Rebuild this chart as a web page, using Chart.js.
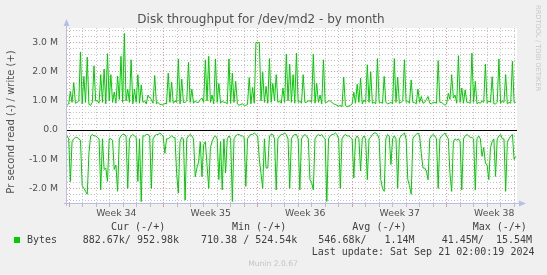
<!DOCTYPE html>
<html>
<head>
<meta charset="utf-8">
<script src="https://cdn.jsdelivr.net/npm/chart.js@4.4.1/dist/chart.umd.min.js"></script>
<style>
html, body { margin: 0; padding: 0; background: #f0f0f0; }
canvas { display: block; }
</style>
</head>
<body>
<canvas id="diskChart" width="547" height="275"></canvas>
<script>
// x axis in days since the start of week 34, one sample every 3 hours
const firstDay = -0.15;
const lastDay = 33.19;
const stepDays = 0.125;
const weekLabels = ['Week 34', 'Week 35', 'Week 36', 'Week 37', 'Week 38'];
const yTicks = [-2, -1, 0, 1, 2, 3];
const yTickLabels = ['-2.0 M', '-1.0 M', '0.0', '1.0 M', '2.0 M', '3.0 M'];

// bytes per second, in millions
const writeM = [
    0.85,0.9,1.32,0.95,1.63,0.92,0.95,1.0,2.68,0.9,1.84,0.95,2.5,0.88,0.85,0.95,2.2,1.0,1.0,0.92,
    1.9,0.95,2.09,0.9,2.62,1.0,1.9,0.95,1.3,0.92,1.85,1.05,2.53,0.95,3.31,1.0,1.4,0.95,2.41,0.9,
    1.4,0.95,1.9,0.92,1.55,0.95,1.0,0.9,1.2,1.1,1.05,0.92,1.87,0.9,0.95,0.88,0.88,0.85,0.92,0.9,
    1.95,0.95,1.64,0.92,1.0,0.95,2.44,0.9,1.75,0.95,0.95,1.0,2.32,0.95,1.4,0.92,1.0,0.95,0.95,1.05,
    1.1,0.95,2.41,1.0,2.53,0.95,1.2,0.9,2.44,0.95,1.6,0.92,1.0,0.95,0.95,0.9,2.44,0.92,1.95,0.95,
    1.67,0.9,0.85,0.88,0.9,0.85,0.85,0.88,1.8,0.9,1.46,0.92,3.01,3.0,3.0,1.0,1.98,0.95,1.5,0.92,
    2.45,0.95,1.6,1.0,1.9,0.95,1.0,0.92,1.44,0.95,2.61,1.0,2.26,0.95,1.9,0.92,2.64,0.95,1.0,0.92,
    1.9,0.95,0.95,1.0,1.0,0.95,2.61,0.92,1.6,0.95,1.2,0.9,2.41,0.95,0.95,1.0,1.0,0.95,0.9,0.88,
    0.85,0.82,0.85,0.8,1.82,0.85,0.8,0.82,0.85,0.9,1.3,0.92,1.57,0.95,1.78,0.9,1.03,0.95,2.24,0.95,
    1.99,0.92,0.95,0.9,2.45,0.95,0.95,0.92,1.84,0.95,0.9,0.92,0.95,0.9,2.45,0.95,1.82,0.92,0.95,1.0,
    2.41,0.95,1.0,0.92,1.72,0.95,0.95,0.9,1.41,0.95,1.15,0.92,0.95,1.05,1.15,0.92,0.9,0.95,0.95,0.92,
    2.38,0.95,0.95,0.9,0.85,0.9,1.26,1.05,1.9,1.1,1.2,0.92,2.55,0.95,1.44,0.92,1.38,0.95,0.95,0.92,
    2.64,0.95,1.67,0.9,0.95,0.92,1.0,0.95,2.26,0.92,1.0,0.95,1.83,0.9,0.9,0.95,2.44,0.92,1.0,0.95,
    1.9,0.9,0.95,0.92,2.36,0.95,0.95];

// read side, drawn below zero
const readM = [
    0.2,0.3,1.76,0.4,0.3,0.25,0.25,0.3,0.35,1.9,2.0,2.1,2.2,0.8,0.2,0.15,0.2,0.2,0.25,0.3,
    2.05,0.3,1.35,1.3,1.76,0.3,0.3,0.35,1.35,1.2,2.1,0.3,0.2,0.15,0.15,0.2,2.0,0.3,0.2,0.15,
    0.2,0.25,1.76,0.3,2.45,0.2,0.2,0.15,0.15,0.2,2.0,0.3,0.2,0.15,0.15,0.1,0.15,0.2,0.8,0.3,
    0.3,0.25,0.2,0.25,0.25,1.5,2.16,0.4,0.25,0.3,2.4,0.3,0.2,0.15,0.2,0.3,1.6,1.3,1.1,0.4,
    1.6,0.5,0.4,1.2,2.0,0.6,0.4,0.25,0.2,0.3,1.7,0.4,2.05,0.3,1.47,0.3,0.2,0.3,2.45,0.3,
    0.2,0.15,0.15,0.2,0.2,0.25,1.93,0.3,0.2,0.15,0.15,0.1,0.15,0.2,1.0,1.5,2.0,0.3,1.3,1.3,
    0.2,0.15,0.15,0.3,2.05,0.3,0.2,0.15,0.15,0.1,0.15,0.3,2.0,0.3,0.2,0.15,0.15,0.3,2.05,0.3,
    0.2,0.15,0.2,0.3,1.7,1.8,2.05,0.3,0.2,0.15,0.2,0.15,0.25,0.3,2.45,0.3,0.2,0.15,0.15,0.1,
    0.15,0.3,2.0,0.3,0.2,0.15,0.2,0.2,0.25,0.3,1.64,0.3,0.2,0.3,1.4,0.3,0.2,0.3,1.7,0.3,
    0.25,0.15,0.1,0.1,0.15,0.3,1.7,2.0,2.1,0.3,0.15,0.2,1.18,0.3,0.2,0.3,2.0,0.3,0.2,0.15,
    0.1,0.3,1.7,1.9,2.2,0.3,0.2,0.15,0.1,0.2,0.8,1.3,1.3,1.4,1.7,0.3,0.2,0.15,0.2,0.3,
    2.0,0.3,0.2,0.15,0.1,0.2,0.3,1.5,2.1,0.4,0.3,0.35,0.3,0.4,2.05,0.3,0.2,0.15,0.2,0.25,
    0.25,0.3,2.05,0.3,0.2,0.3,0.9,0.6,1.13,1.2,1.7,0.6,0.4,0.3,1.59,0.3,0.2,0.15,0.3,0.3,
    2.1,0.4,0.3,0.2,0.15,1.0,0.9];

const legendHead = ['Cur (-/+)', 'Min (-/+)', 'Avg (-/+)', 'Max (-/+)'];
const legendVals = ['882.67k/ 952.98k', '710.38 / 524.54k', '546.68k/   1.14M', '41.45M/  15.54M'];
const lastUpdate = 'Last update: Sat Sep 21 02:00:19 2024';

const GREEN = '#00cc00';
const RED_GRID = 'rgba(230, 110, 110, 0.7)';
const GRAY_GRID = 'rgba(150, 150, 150, 0.55)';
const AXIS = '#b8bfe6';

const points = arr => arr.map((v, i) => ({ x: firstDay + i * stepDays, y: v }));

const muninDecor = {
    id: 'muninDecor',
    beforeDraw(chart) {
        const { ctx, chartArea: a } = chart;
        ctx.save();
        ctx.fillStyle = '#ffffff';
        ctx.fillRect(a.left, a.top, a.right - a.left, a.bottom - a.top);
        ctx.restore();
    },
    beforeDatasetsDraw(chart) {
        const { ctx, chartArea: a } = chart;
        const y0 = Math.round(chart.scales.y.getPixelForValue(0)) + 0.5;
        ctx.save();
        ctx.strokeStyle = '#000';
        ctx.lineWidth = 1;
        ctx.beginPath();
        ctx.moveTo(a.left, y0);
        ctx.lineTo(a.right, y0);
        ctx.stroke();
        ctx.restore();
    },
    afterDraw(chart) {
        const { ctx, chartArea: a } = chart;
        ctx.save();

        // axes with arrows
        ctx.strokeStyle = AXIS;
        ctx.fillStyle = AXIS;
        ctx.lineWidth = 1;
        ctx.beginPath();
        ctx.moveTo(a.left - 0.5, a.bottom + 3);
        ctx.lineTo(a.left - 0.5, a.top - 4);
        ctx.moveTo(a.left - 3, a.bottom + 0.5);
        ctx.lineTo(a.right + 3, a.bottom + 0.5);
        ctx.stroke();
        ctx.beginPath();
        ctx.moveTo(a.left - 0.5, a.top - 9);
        ctx.lineTo(a.left - 3.5, a.top - 2);
        ctx.lineTo(a.left + 2.5, a.top - 2);
        ctx.fill();
        ctx.beginPath();
        ctx.moveTo(a.right + 9, a.bottom + 0.5);
        ctx.lineTo(a.right + 2, a.bottom - 2.5);
        ctx.lineTo(a.right + 2, a.bottom + 3.5);
        ctx.fill();

        // title
        ctx.fillStyle = '#505050';
        ctx.font = '12px "DejaVu Sans"';
        ctx.textAlign = 'center';
        ctx.textBaseline = 'middle';
        ctx.fillText('Disk throughput for /dev/md2 - by month', 261, 19.5);

        // vertical axis label
        ctx.save();
        ctx.translate(11, 122);
        ctx.rotate(-Math.PI / 2);
        ctx.font = '10px "DejaVu Sans"';
        ctx.fillText('Pr second read (-) / write (+)', 0, 0);
        ctx.restore();

        // watermark
        ctx.save();
        ctx.translate(538, 5);
        ctx.rotate(Math.PI / 2);
        ctx.fillStyle = '#c8c8c8';
        ctx.font = '6.7px "DejaVu Sans"';
        ctx.textAlign = 'left';
        ctx.fillText('RRDTOOL / TOBI OETIKER', 0, 0);
        ctx.restore();

        // legend
        ctx.fillStyle = GREEN;
        ctx.fillRect(14, 237, 6, 6);
        ctx.fillStyle = '#404040';
        ctx.font = '10px "DejaVu Sans Mono"';
        ctx.textAlign = 'left';
        const headX = [111, 232, 352.3, 472.7];
        const valX = [82.7, 201, 318.3, 441.7];
        legendHead.forEach((t, i) => ctx.fillText(t, headX[i], 227.5));
        legendVals.forEach((t, i) => ctx.fillText(t, valX[i], 240));
        ctx.fillText('Bytes', 27, 240);
        ctx.fillText(lastUpdate, 311.7, 252);

        ctx.fillStyle = '#c4c4c4';
        ctx.font = '7.6px "DejaVu Sans"';
        ctx.textAlign = 'center';
        ctx.fillText('Munin 2.0.67', 273, 264);
        ctx.restore();
    }
};

const chartCtx = document.getElementById('diskChart').getContext('2d');
new Chart(chartCtx, {
    type: 'line',
    data: {
        datasets: [{
            label: 'write',
            data: points(writeM),
            borderColor: GREEN,
            borderWidth: 1,
            pointRadius: 0,
            tension: 0
        }, {
            label: 'read',
            data: points(readM.map(v => -v)),
            borderColor: GREEN,
            borderWidth: 1,
            pointRadius: 0,
            tension: 0
        }]
    },
    options: {
        responsive: false,
        animation: false,
        layout: { padding: { top: 28, right: 30, left: 0, bottom: 0 } },
        plugins: {
            legend: { display: false },
            tooltip: { enabled: false }
        },
        scales: {
            x: {
                type: 'linear',
                min: firstDay,
                max: lastDay,
                afterBuildTicks: scale => {
                    const t = [];
                    for (let d = 0; d <= 33; d++) t.push({ value: d });
                    weekLabels.forEach((_, i) => t.push({ value: i * 7 + 3.5 }));
                    scale.ticks = t.sort((p, q) => p.value - q.value);
                },
                afterFit: scale => { scale.height = 72; },
                grid: {
                    color: c => {
                        const v = c.tick.value;
                        if (!Number.isInteger(v)) return 'rgba(0,0,0,0)';
                        return v % 7 === 0 ? RED_GRID : GRAY_GRID;
                    },
                    tickLength: 4
                },
                border: { display: false, dash: [1, 2] },
                ticks: {
                    autoSkip: false,
                    maxRotation: 0,
                    padding: 1,
                    color: '#505050',
                    font: { family: 'DejaVu Sans', size: 9.3 },
                    callback: v => {
                        const w = (v - 3.5) / 7;
                        return Number.isInteger(w) ? weekLabels[w] : '';
                    }
                }
            },
            y: {
                min: -2.5,
                max: 3.5,
                afterBuildTicks: scale => {
                    const t = [];
                    for (let k = -12; k <= 17; k++) t.push({ value: k / 5 });
                    scale.ticks = t;
                },
                afterFit: scale => { scale.width = 67; },
                grid: {
                    color: c => {
                        const v = c.tick.value;
                        if (Math.abs(v) < 1e-6) return 'rgba(0,0,0,0)';
                        return Math.abs(v - Math.round(v)) < 1e-6 ? RED_GRID : GRAY_GRID;
                    },
                    drawTicks: false
                },
                border: { display: false, dash: [1, 2] },
                ticks: {
                    autoSkip: false,
                    padding: 9,
                    color: '#505050',
                    font: { family: 'DejaVu Sans', size: 9.3 },
                    callback: v => {
                        if (Math.abs(v - Math.round(v)) > 1e-6) return '';
                        return yTickLabels[yTicks.indexOf(Math.round(v))];
                    }
                }
            }
        }
    },
    plugins: [muninDecor]
});
</script>
</body>
</html>
